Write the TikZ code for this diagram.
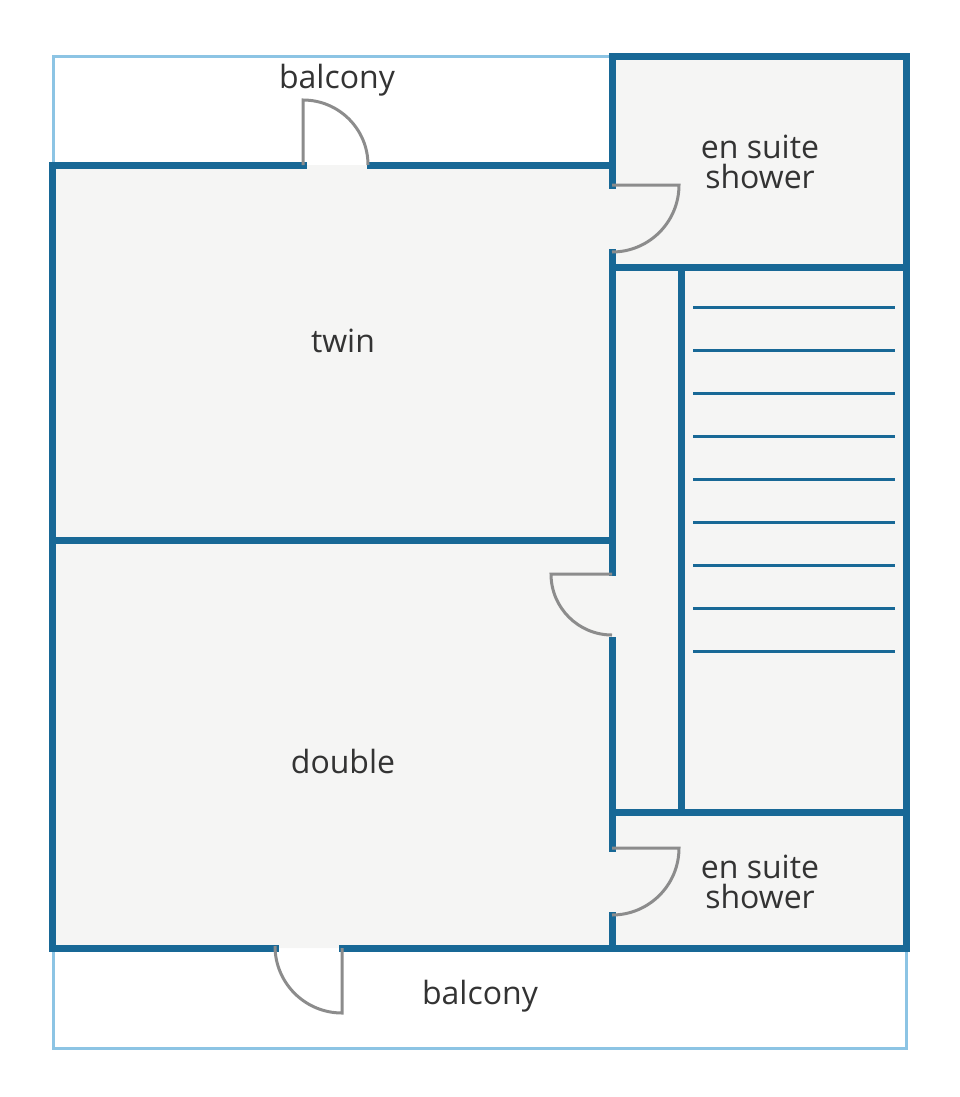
\documentclass[tikz,border=0pt]{standalone}
\usepackage{fontspec}
\setmainfont{Open Sans}
\definecolor{wallblue}{RGB}{24, 104, 150}
\definecolor{paleblue}{RGB}{140, 196, 228}
\definecolor{floorgray}{RGB}{245, 245, 244}
\definecolor{doorgray}{RGB}{140, 140, 140}

\begin{document}
\begin{tikzpicture}[
        x=1pt, y=-1pt,
        wall/.style={draw=wallblue, line width=7pt, line cap=rect},
        balc/.style={draw=paleblue, line width=3pt},
        stairstep/.style={draw=wallblue, line width=3pt},
        door/.style={draw=doorgray, line width=3pt},
        label/.style={font=\fontsize{32}{36}\selectfont, text=black!80, align=center}
    ]
        \useasboundingbox (0,0) rectangle (960,1097);
        % floor
        \fill[floorgray] (52,165) -| (612,57) -| (906,948) -| cycle;
        % balconies
        \draw[balc] (612,57) -- (53,57) -- (53,165);
        \draw[balc] (53,948) -- (53,1048) -- (906,1048) -- (906,948);
        % stairs
        \foreach \y in {307,350,...,651}
            \draw[stairstep] (693,\y) -- (895,\y);
        % walls
        \draw[wall] (52,165) -- (303,165);
        \draw[wall] (370,165) -- (612,165);
        \draw[wall] (52,165) -- (52,948) -- (275,948);
        \draw[wall] (342,948) -- (906,948) -- (906,57) -- (612,57) -- (612,185);
        \draw[wall] (612,252) -- (612,572);
        \draw[wall] (612,640) -- (612,848);
        \draw[wall] (612,915) -- (612,948);
        \draw[wall] (52,540) -- (612,540);
        \draw[wall] (612,267) -- (906,267);
        \draw[wall] (612,812) -- (906,812);
        \draw[wall] (681,267) -- (681,812);
        % doors
        \draw[door] (303,165) -- (303,100) arc[start angle=-90, end angle=0, radius=65];
        \draw[door] (612,185) -- (679,185) arc[start angle=0, end angle=90, radius=67];
        \draw[door] (612,574) -- (551,574) arc[start angle=180, end angle=90, radius=61];
        \draw[door] (612,848) -- (679,848) arc[start angle=0, end angle=90, radius=67];
        \draw[door] (342,948) -- (342,1013) arc[start angle=90, end angle=180, radius=67];
        % labels
        \node[label] (balconytop) at (337,80) {balcony};
        \node[label] (ensuitetop) at (760,162) {en suite\\[-6pt]shower};
        \node[label] (twin) at (343,341) {twin};
        \node[label] (double) at (343,761) {double};
        \node[label] (ensuitebot) at (760,882) {en suite\\[-6pt]shower};
        \node[label] (balconybot) at (480,996) {balcony};
    \end{tikzpicture}
\end{document}
